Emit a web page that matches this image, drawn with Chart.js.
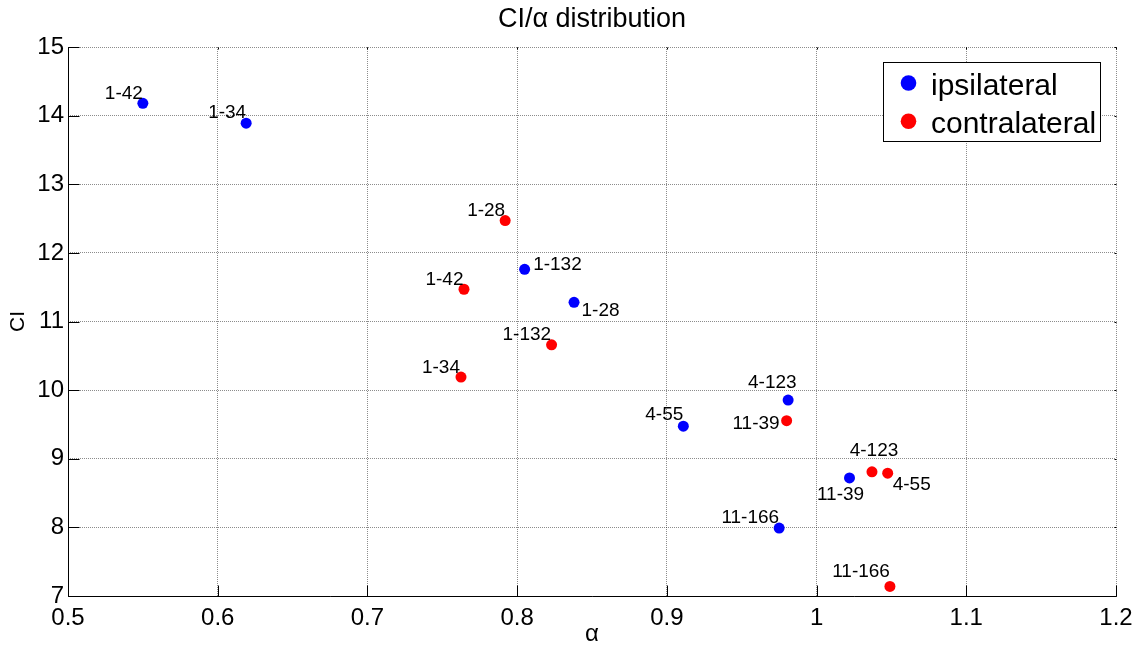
<!DOCTYPE html>
<html>
<head>
<meta charset="utf-8">
<script src="https://cdn.jsdelivr.net/npm/chart.js@4.4.1/dist/chart.umd.min.js"></script>
<style>
  html, body { margin: 0; padding: 0; background: #ffffff; }
  #wrap { width: 1136px; height: 646px; }
</style>
</head>
<body>
<div id="wrap"><canvas id="chart" width="1136" height="646"></canvas></div>
<script>
// Axis tick values
const xTicks = [0.5, 0.6, 0.7, 0.8, 0.9, 1.0, 1.1, 1.2];
const yTicks = [7, 8, 9, 10, 11, 12, 13, 14, 15];

// Ipsilateral measurements
const ipsiNames = ['1-42', '1-34', '1-132', '1-28', '4-123', '4-55', '11-39', '11-166'];
const ipsiAlpha = [0.550, 0.619, 0.805, 0.838, 0.981, 0.911, 1.022, 0.975];
const ipsiCI    = [14.18, 13.89, 11.76, 11.28, 9.855, 9.475, 8.72, 7.99];

// Contralateral measurements
const contraNames = ['1-28', '1-42', '1-132', '1-34', '11-39', '4-123', '4-55', '11-166'];
const contraAlpha = [0.792, 0.7645, 0.823, 0.7625, 0.980, 1.037, 1.0475, 1.049];
const contraCI    = [12.47, 11.47, 10.66, 10.19, 9.555, 8.81, 8.79, 7.14];

// Where each name sits relative to its dot (pixels)
const ipsiLabelPos = [
  { align: 'right',  dx: 0,   dy: -10 },
  { align: 'right',  dx: 0,   dy: -10 },
  { align: 'left',   dx: 8.5, dy: -5 },
  { align: 'left',   dx: 7.5, dy: 8 },
  { align: 'right',  dx: 8.5, dy: -17.5 },
  { align: 'right',  dx: 0,   dy: -11 },
  { align: 'center', dx: -9,  dy: 16.5 },
  { align: 'right',  dx: 0,   dy: -10 }
];
const contraLabelPos = [
  { align: 'right',  dx: 0,    dy: -10 },
  { align: 'right',  dx: -0.5, dy: -9 },
  { align: 'right',  dx: -0.5, dy: -10 },
  { align: 'right',  dx: -1,   dy: -9.5 },
  { align: 'right',  dx: -7,   dy: 3 },
  { align: 'center', dx: 2,    dy: -21 },
  { align: 'left',   dx: 5,    dy: 12 },
  { align: 'right',  dx: 0,    dy: -15 }
];

const FONT = '"Liberation Sans", Arial, Helvetica, sans-serif';

function toPoints(xs, ys) {
  return xs.map((x, i) => ({ x: x, y: ys[i] }));
}

// Names next to the dots
const pointNames = {
  id: 'pointNames',
  afterDatasetsDraw(chart) {
    const ctx = chart.ctx;
    const sets = [
      { names: ipsiNames, pos: ipsiLabelPos },
      { names: contraNames, pos: contraLabelPos }
    ];
    ctx.save();
    ctx.font = '19px ' + FONT;
    ctx.fillStyle = '#000000';
    ctx.textBaseline = 'middle';
    sets.forEach((s, di) => {
      const meta = chart.getDatasetMeta(di);
      meta.data.forEach((el, j) => {
        const p = s.pos[j];
        ctx.textAlign = p.align;
        ctx.fillText(s.names[j], el.x + p.dx, el.y + p.dy);
      });
    });
    ctx.restore();
  }
};

// Solid left/bottom axes with inward ticks, small ticks on top/right
const axesFrame = {
  id: 'axesFrame',
  afterDraw(chart) {
    const ctx = chart.ctx;
    const a = chart.chartArea;
    const xs = chart.scales.x, ys = chart.scales.y;
    const L = Math.round(a.left) + 0.5, R = Math.round(a.right) + 0.5;
    const T = Math.round(a.top) + 0.5, B = Math.round(a.bottom) + 0.5;
    ctx.save();
    ctx.strokeStyle = '#000000';
    ctx.lineWidth = 1;
    ctx.beginPath();
    ctx.moveTo(L, T); ctx.lineTo(L, B); ctx.lineTo(R, B);
    xTicks.forEach(v => {
      const px = Math.round(xs.getPixelForValue(v)) + 0.5;
      ctx.moveTo(px, B); ctx.lineTo(px, B - 11);
      ctx.moveTo(px, T); ctx.lineTo(px, T + 2);
    });
    yTicks.forEach(v => {
      const py = Math.round(ys.getPixelForValue(v)) + 0.5;
      ctx.moveTo(L, py); ctx.lineTo(L + 11, py);
      ctx.moveTo(R, py); ctx.lineTo(R - 2, py);
    });
    ctx.stroke();
    ctx.restore();
  }
};

// Boxed legend inside the plot, upper right
const boxLegend = {
  id: 'boxLegend',
  afterDraw(chart) {
    const ctx = chart.ctx;
    const a = chart.chartArea;
    ctx.save();
    ctx.font = '30px ' + FONT;
    const items = chart.data.datasets.map(d => ({ text: d.label, color: d.backgroundColor }));
    const maxW = Math.max(...items.map(it => ctx.measureText(it.text).width));
    const w = Math.round(48 + maxW + 4);
    const h = 79;
    const right = Math.round(a.right) - 16;
    const left = right - w;
    const top = Math.round(a.top) + 15;
    ctx.fillStyle = '#ffffff';
    ctx.fillRect(left, top, w, h);
    ctx.strokeStyle = '#000000';
    ctx.lineWidth = 1;
    ctx.strokeRect(left + 0.5, top + 0.5, w, h);
    items.forEach((it, i) => {
      const cy = top + 21 + i * 38.3;
      ctx.fillStyle = it.color;
      ctx.beginPath();
      ctx.arc(left + 25.5, cy, 7.8, 0, Math.PI * 2);
      ctx.fill();
      ctx.fillStyle = '#000000';
      ctx.textAlign = 'left';
      ctx.textBaseline = 'alphabetic';
      ctx.fillText(it.text, left + 48, cy + 11.6);
    });
    ctx.restore();
  }
};

const whiteBg = {
  id: 'whiteBg',
  beforeDraw(chart) {
    const ctx = chart.ctx;
    ctx.save();
    ctx.fillStyle = '#ffffff';
    ctx.fillRect(0, 0, chart.width, chart.height);
    ctx.restore();
  }
};

const gridStyle = {
  color: 'rgba(0,0,0,0.45)',
  lineWidth: 1,
  drawTicks: false
};

new Chart(document.getElementById('chart'), {
  type: 'scatter',
  data: {
    datasets: [
      {
        label: 'ipsilateral',
        data: toPoints(ipsiAlpha, ipsiCI),
        backgroundColor: '#0000ff',
        borderColor: '#0000ff',
        pointRadius: 5.5,
        pointBorderWidth: 0,
        pointHoverRadius: 5.5
      },
      {
        label: 'contralateral',
        data: toPoints(contraAlpha, contraCI),
        backgroundColor: '#ff0000',
        borderColor: '#ff0000',
        pointRadius: 5.5,
        pointBorderWidth: 0,
        pointHoverRadius: 5.5
      }
    ]
  },
  options: {
    responsive: false,
    animation: false,
    devicePixelRatio: 1,
    events: [],
    layout: { padding: { left: 0, right: 20, top: 0, bottom: 0 } },
    plugins: {
      legend: { display: false },
      tooltip: { enabled: false },
      title: {
        display: true,
        text: 'CI/\u03b1 distribution',
        color: '#000000',
        fullSize: false,
        font: { family: FONT, size: 27, weight: 'normal', lineHeight: 1.2 },
        padding: { top: 3, bottom: 11.6 }
      }
    },
    scales: {
      x: {
        type: 'linear',
        min: 0.5,
        max: 1.2,
        afterBuildTicks(s) { s.ticks = xTicks.map(v => ({ value: v })); },
        afterFit(s) { s.height = 50; s.paddingLeft = 0; s.paddingRight = 0; },
        grid: gridStyle,
        border: { display: false, dash: [1, 1] },
        ticks: {
          color: '#000000',
          padding: 8,
          maxRotation: 0,
          autoSkip: false,
          font: { family: FONT, size: 24 },
          callback: v => String(Math.round(v * 10) / 10)
        },
        title: {
          display: true,
          text: '\u03b1',
          color: '#000000',
          font: { family: FONT, size: 24, lineHeight: 1 },
          padding: { top: 0, bottom: 0 }
        }
      },
      y: {
        type: 'linear',
        min: 7,
        max: 15,
        afterBuildTicks(s) { s.ticks = yTicks.map(v => ({ value: v })); },
        afterFit(s) { s.width = 68; s.paddingTop = 0; s.paddingBottom = 0; },
        grid: gridStyle,
        border: { display: false, dash: [1, 1] },
        ticks: {
          color: '#000000',
          padding: 4,
          autoSkip: false,
          font: { family: FONT, size: 24 },
          callback: v => String(v)
        },
        title: {
          display: true,
          text: 'CI',
          color: '#000000',
          font: { family: FONT, size: 21, lineHeight: 1 },
          padding: { top: 7.7, bottom: 0 }
        }
      }
    }
  },
  plugins: [whiteBg, pointNames, axesFrame, boxLegend]
});
</script>
</body>
</html>
